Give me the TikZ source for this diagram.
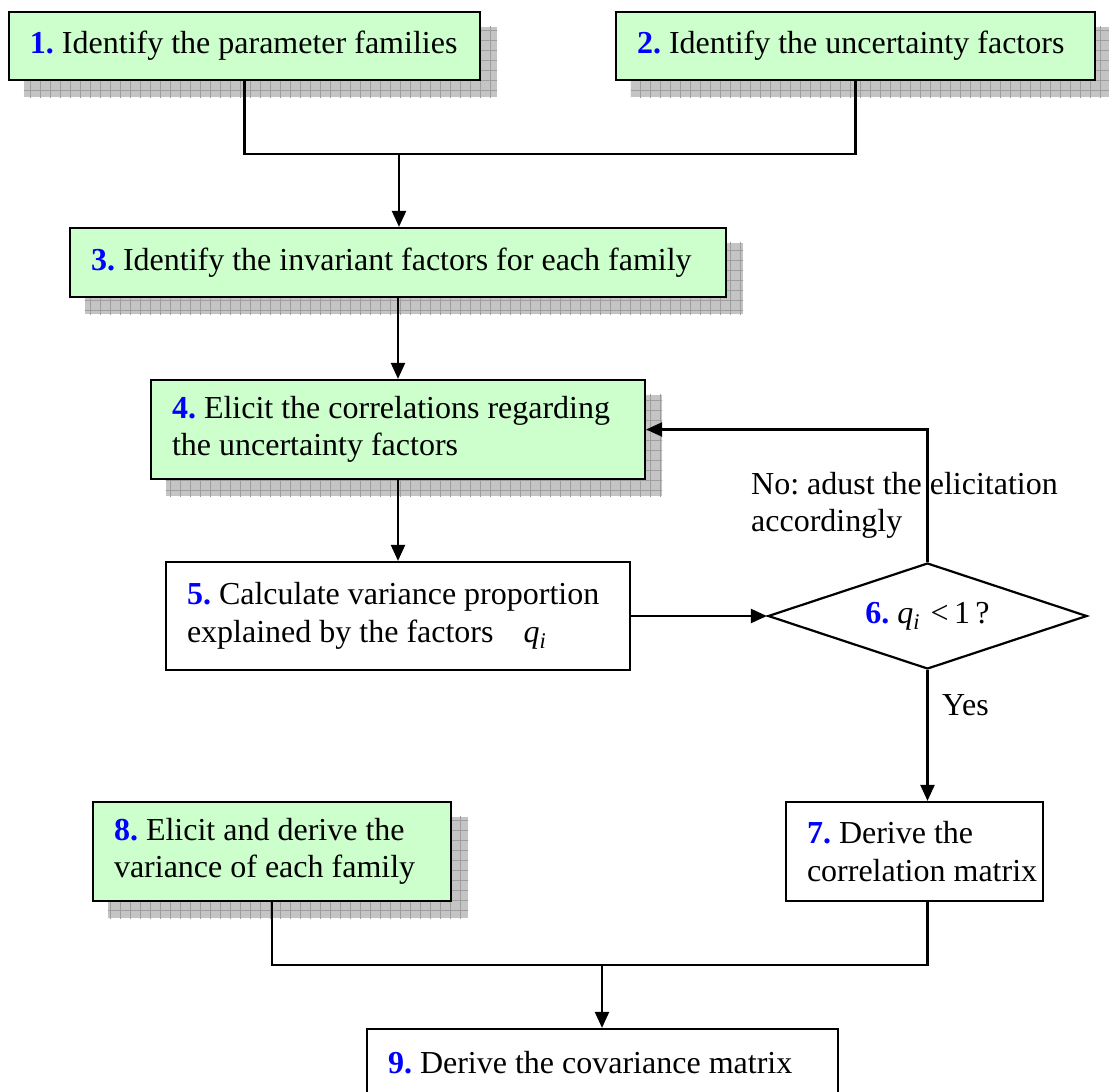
\documentclass[tikz,border=0pt]{standalone}
\usepackage{fontspec}
\setmainfont{Liberation Serif}
\usetikzlibrary{arrows.meta,shapes.geometric,calc}

\pgfdeclarelayer{background}
\pgfsetlayers{background,main}

\definecolor{stepgreen}{RGB}{204,255,204}
\definecolor{numblue}{RGB}{0,0,255}
\definecolor{shadowfill}{RGB}{196,196,196}
\definecolor{shadowgrid}{RGB}{158,158,158}

% step number in bold blue, and the symbol q_i
\newcommand\stepno[1]{\textcolor{numblue}{\textbf{#1}}}
\newcommand\qsym{\textit{q}\textsubscript{\textit{i}}}
% one unbreakable line of box text with the font's own word spacing
\newcommand\boxline[1]{\mbox{\spaceskip=0pt\xspaceskip=0pt #1}}

\tikzset{
  every node/.style={font=\fontsize{32}{37.5}\selectfont},
  flowbox/.style={draw, line width=2.2pt, rectangle, inner xsep=21pt,
                  inner ysep=0pt, align=left},
  greenbox/.style={flowbox, fill=stepgreen},
  whitebox/.style={flowbox, fill=white},
  decision/.style={draw, diamond, aspect=3, line width=2.2pt, fill=white, inner sep=0pt},
  link/.style={line width=2.2pt},
  arrowlink/.style={link, -{Triangle[length=16pt,width=14pt]}},
}

% hatched drop shadow behind a node, 16 units right and down
\newcommand\castshadow[1]{%
  \begin{pgfonlayer}{background}
    \begin{scope}
      \clip ([shift={(16,16)}]#1.south west) rectangle ([shift={(16,16)}]#1.north east);
      \fill[shadowfill] ([shift={(16,16)}]#1.south west) rectangle ([shift={(16,16)}]#1.north east);
      \draw[shadowgrid, line width=0.9pt, step=10pt]
        ([shift={(6,26)}]#1.south west) grid ([shift={(26,6)}]#1.north east);
    \end{scope}
  \end{pgfonlayer}}

\begin{document}
\frenchspacing
\begin{tikzpicture}[x=1pt, y=-1pt]
  \useasboundingbox (0,0) rectangle (1109,1092);
  \begin{pgfonlayer}{background}
    \fill[white] (0,0) rectangle (1109,1092);
  \end{pgfonlayer}

  % process steps
  \node[greenbox, text width=429pt, minimum height=68pt] (b1) at (244.5,46)
    {\boxline{\stepno{1.} Identify the parameter families}};
  \node[greenbox, text width=437pt, minimum height=68pt] (b2) at (855.5,46)
    {\boxline{\stepno{2.} Identify the uncertainty factors}};
  \node[greenbox, text width=614pt, minimum height=69pt] (b3) at (398,262.5)
    {\boxline{\stepno{3.} Identify the invariant factors for each family}};
  \node[greenbox, text width=452pt, minimum height=99pt] (b4) at (398,429.5)
    {\boxline{\stepno{4.} Elicit the correlations regarding}\\\boxline{the uncertainty factors}};
  \node[whitebox, text width=422pt, minimum height=108pt] (b5) at (398,616)
    {\boxline{\stepno{5.} Calculate variance proportion}\\\boxline{explained by the factors\hspace{30pt}\qsym}};
  \node[decision, minimum width=319pt, minimum height=106pt] (dia) at (927.5,616)
    {\stepno{6.} \qsym\,\,{<}\,1\,?};
  \node[whitebox, text width=215pt, minimum height=99pt] (b7) at (914.5,851.5)
    {\boxline{\stepno{7.} Derive the}\\\boxline{correlation matrix}};
  \node[greenbox, text width=316pt, minimum height=99pt] (b8) at (272,851.5)
    {\boxline{\stepno{8.} Elicit and derive the}\\\boxline{variance of each family}};
  \node[whitebox, text width=429pt, minimum height=68pt] (b9) at (602.5,1063)
    {\boxline{\stepno{9.} Derive the covariance matrix}};

  \castshadow{b1}
  \castshadow{b2}
  \castshadow{b3}
  \castshadow{b4}
  \castshadow{b8}

  % branch labels
  \node[anchor=north west, align=left, inner sep=0pt] (nolabel) at (751,472)
    {No: adust the elicitation\\accordingly};
  \node[anchor=base west, inner sep=0pt] (yeslabel) at (942,715) {Yes};

  % connectors
  \coordinate (topjoin) at (399,154);
  \coordinate (botjoin) at (602,965);
  \draw[link] (b1.south) |- (topjoin) -| (b2.south);
  \draw[arrowlink] (topjoin) -- (topjoin |- b3.north);
  \draw[arrowlink] (b3.south) -- (b4.north);
  \draw[arrowlink] (b4.south) -- (b5.north);
  \draw[arrowlink] (b5.east) -- (dia.west);
  \draw[arrowlink] (dia.north) |- (b4.east);
  \draw[arrowlink] (dia.south) -- (dia.south |- b7.north);
  \draw[link] (b8.south) |- (botjoin) -| (dia.south |- b7.south);
  \draw[arrowlink] (botjoin) -- (botjoin |- b9.north);
\end{tikzpicture}
\end{document}
